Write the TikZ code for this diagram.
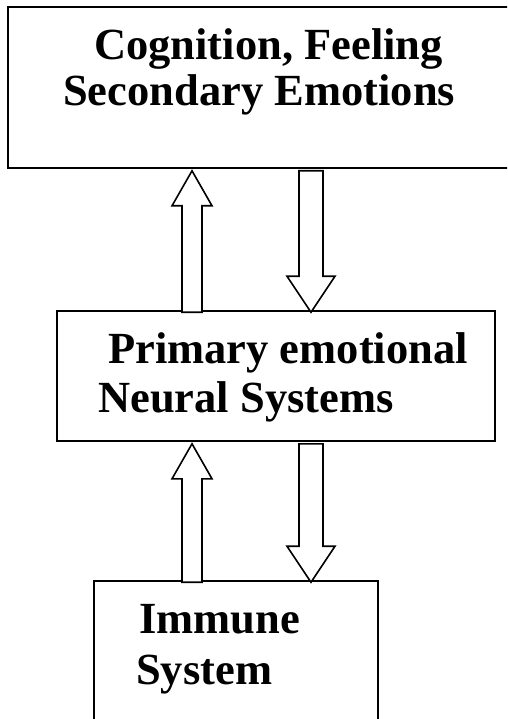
\documentclass[tikz,border=0pt]{standalone}
\usepackage{fontspec}
\setmainfont{Liberation Serif}
\usetikzlibrary{calc}

\tikzset{
  box/.style={draw, line width=1.6pt, inner sep=0pt, fill=white},
  lbl/.style={anchor=base west, inner sep=0pt, font=\bfseries\fontsize{44.5}{50}\selectfont},
  blockarrow/.style={draw, line width=1.6pt, line join=miter, fill=white}
}

% hollow arrow going up: #1 x coordinate, #2 lower node, #3 upper node
\newcommand{\blockup}[3]{%
  \draw[blockarrow] ($(#3.south -| #1)+(0,2)$) -- ++(20,35) -- ++(-10,0)
    -- ($(#2.north -| #1)+(10,2)$) -- ++(-20,0)
    -- ($(#3.south -| #1)+(-10,37)$) -- ++(-10,0) -- cycle;}
% hollow arrow going down: #1 x coordinate, #2 upper node, #3 lower node
\newcommand{\blockdown}[3]{%
  \draw[blockarrow] ($(#2.south -| #1)+(-12,2)$) -- ++(24,0)
    -- ($(#3.north -| #1)+(12,-34)$) -- ++(12,0)
    -- ($(#3.north -| #1)+(0,2)$)
    -- ($(#3.north -| #1)+(-24,-34)$) -- ++(12,0) -- cycle;}

\begin{document}
\begin{tikzpicture}[x=1pt,y=-1pt]
        \clip (0,0) rectangle (507,719);
        \coordinate (upx) at (192,0);
        \coordinate (downx) at (311,0);

        % boxes
        \node[box, minimum width=507pt, minimum height=161pt] (cog) at (261.5,87.5) {};
        \node[box, minimum width=438pt, minimum height=130pt] (prim) at (276,376) {};
        \node[box, minimum width=284pt, minimum height=154pt] (imm) at (236,658) {};

        % labels
        \node[lbl] at (94,60) {Cognition, Feeling};
        \node[lbl] at (63,106) {Secondary Emotions};
        \node[lbl] at (108,363) {Primary emotional};
        \node[lbl] at (98,412) {Neural Systems};
        \node[lbl] at (139,633) {Immune};
        \node[lbl] at (136,684) {System};

        % arrows
        \blockup{upx}{prim}{cog}
        \blockdown{downx}{cog}{prim}
        \blockup{upx}{imm}{prim}
        \blockdown{downx}{prim}{imm}
      \end{tikzpicture}
\end{document}
